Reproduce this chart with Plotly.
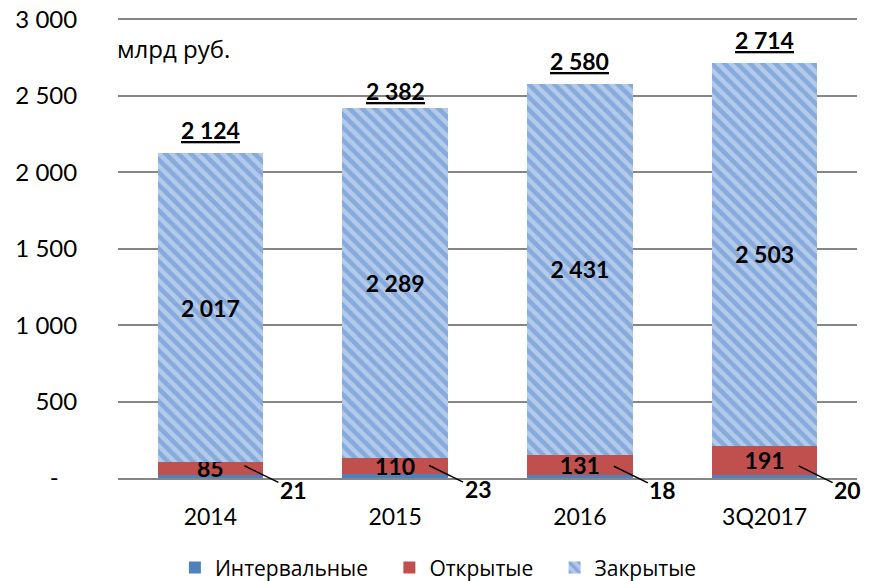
import plotly.graph_objects as go

categories = ["2014", "2015", "2016", "3Q2017"]
interval_vals = [21, 23, 18, 20]
open_vals = [85, 110, 131, 191]
closed_vals = [2017, 2289, 2431, 2503]
totals = [2124, 2382, 2580, 2714]
tick_vals = [0, 500, 1000, 1500, 2000, 2500, 3000]
tick_text = ["-\u00a0\u00a0\u00a0", "500", "1 000", "1 500", "2 000", "2 500", "3 000"]

def fmt(v):
    return f"{v:,}".replace(",", " ")

LBL_FONT = dict(family="Lato", size=23, color="black")
PAD = "\u00a0\u00a0\u00a0"

fig = go.Figure()
fig.add_trace(go.Bar(
    name="Интервальные" + PAD, x=categories, y=interval_vals,
    marker=dict(color="#4F81BD", line=dict(width=0)),
))
fig.add_trace(go.Bar(
    name="Открытые" + PAD, x=categories, y=open_vals,
    marker=dict(color="#C0504D", line=dict(width=0)),
    text=[fmt(v) for v in open_vals], textposition="inside",
    insidetextanchor="middle", constraintext="none", textangle=0,
    textfont=dict(family="Lato", size=23, color="black", weight="bold"),
))
fig.add_trace(go.Bar(
    name="Закрытые", x=categories, y=closed_vals,
    marker=dict(color="#8FB0DE", line=dict(width=0),
                pattern=dict(shape="\\", fgcolor="#5A89CC", bgcolor="#B3CAEA",
                             size=9, solidity=0.5)),
    text=[fmt(v) for v in closed_vals], textposition="inside",
    insidetextanchor="middle", constraintext="none", textangle=0,
    textfont=dict(family="Lato", size=23, color="black", weight="bold"),
))

annotations = []
for i, t in enumerate(totals):
    annotations.append(dict(
        x=i, y=t, text=f"<b><u>{fmt(t)}</u></b>", showarrow=False,
        yanchor="bottom", yshift=7, font=LBL_FONT,
    ))
for i, v in enumerate(interval_vals):
    annotations.append(dict(
        x=i, y=v, text=f"<b>{fmt(v)}</b>", showarrow=True,
        arrowhead=0, arrowwidth=1.5, arrowcolor="black",
        ax=49, ay=24, xshift=34, yshift=9, font=LBL_FONT,
    ))
annotations.append(dict(
    xref="paper", yref="paper", x=-0.004, y=0.932, xanchor="left",
    yanchor="middle", text="млрд руб.", showarrow=False,
    font=dict(family="Open Sans", size=24, color="black"),
))

fig.update_layout(
    barmode="stack", bargap=0.43,
    width=871, height=581,
    margin=dict(l=110, r=22, t=8.7, b=111, autoexpand=False),
    paper_bgcolor="white", plot_bgcolor="white",
    font=dict(family="Lato", size=22, color="black"),
    annotations=annotations,
    legend=dict(orientation="h", x=0.077, xanchor="left", y=-0.195,
                yanchor="middle", font=dict(family="Open Sans", size=21),
                traceorder="normal"),
    yaxis=dict(range=[0, 3015], tickvals=tick_vals, ticktext=tick_text,
               showgrid=True, gridcolor="#868686", gridwidth=1.5,
               zeroline=False, showline=False, automargin=False,
               ticklabeloverflow="allow",
               ticks="outside", ticklen=35, tickcolor="rgba(0,0,0,0)",
               tickfont=dict(family="Lato", size=24)),
    xaxis=dict(type="category", categoryorder="array", categoryarray=categories,
               range=[-0.5, 3.5], showline=True, linecolor="#868686", linewidth=1.5,
               automargin=False, ticklabeloverflow="allow",
               ticks="outside", ticklen=18, tickcolor="rgba(0,0,0,0)",
               tickfont=dict(family="Lato", size=23)),
)

fig.write_html("out.html")
